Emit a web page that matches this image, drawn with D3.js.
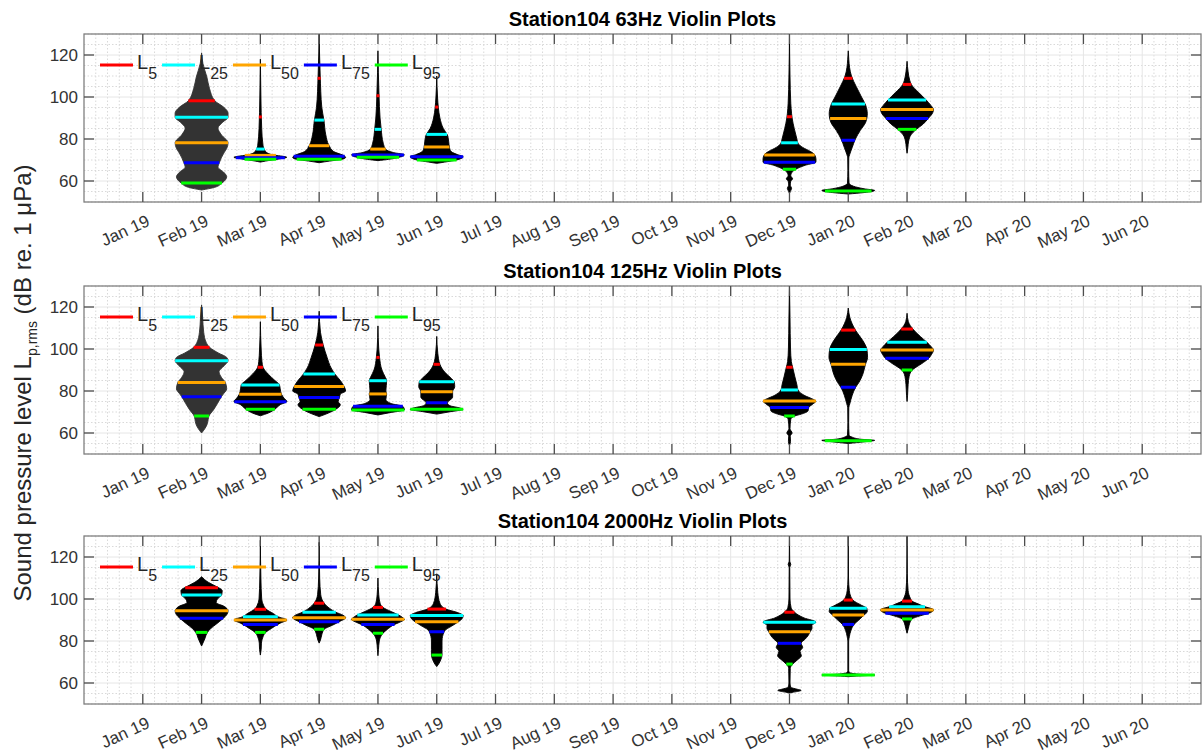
<!DOCTYPE html>
<html>
<head>
<meta charset="utf-8">
<style>
  body { margin: 0; background: #fff; font-family: Arial, "Liberation Sans", sans-serif; }
  .title { font-size: 20px; font-weight: bold; text-anchor: middle; fill: #000; }
  .ticklab { font-size: 17px; fill: #333; }
  .ylab { font-size: 24px; fill: #262626; }
  .leg { font-size: 20px; fill: #262626; }
  .gridmaj { stroke: #e6e6e6; stroke-width: 1; }
  .gridmin { stroke: #d9d9d9; stroke-width: 1; stroke-dasharray: 1.5, 2; }
  .box { fill: none; stroke: #808080; stroke-width: 1.3; }
  .tick { stroke: #4d4d4d; stroke-width: 1.3; }
</style>
</head>
<body>
<div class="chart"></div>
<script src="https://cdn.jsdelivr.net/npm/d3@7/dist/d3.min.js"></script>
<script>
// month ticks along the x axis
const months = ["Jan 19", "Feb 19", "Mar 19", "Apr 19", "May 19", "Jun 19", "Jul 19", "Aug 19", "Sep 19",
  "Oct 19", "Nov 19", "Dec 19", "Jan 20", "Feb 20", "Mar 20", "Apr 20", "May 20", "Jun 20"];
const violinMonths = ["Feb 19", "Mar 19", "Apr 19", "May 19", "Jun 19", "Dec 19", "Jan 20", "Feb 20"];
const titles = ["Station104 63Hz Violin Plots", "Station104 125Hz Violin Plots", "Station104 2000Hz Violin Plots"];
const levelNames = ["5", "25", "50", "75", "95"];
const yTicks = [60, 80, 100, 120];

// exceedance levels L5, L25, L50, L75, L95 (dB) per violin month
const levels63 = [
  [98.2, 90.4, 78.2, 68.7, 59.0],
  [90.5, 75.2, 72.2, 71.1, 70.3],
  [108.9, 89.0, 76.8, 71.8, 70.3],
  [100.6, 84.6, 75.2, 72.4, 71.3],
  [95.2, 82.2, 76.2, 71.6, 70.0],
  [90.6, 78.2, 72.4, 68.9, 65.6],
  [108.9, 96.7, 89.8, 79.4, 55.2],
  [106.0, 98.6, 94.1, 89.8, 84.6]
];
const levels125 = [
  [100.8, 94.4, 84.0, 77.3, 68.1],
  [91.3, 82.9, 78.4, 74.9, 71.3],
  [101.9, 88.1, 82.1, 76.9, 71.3],
  [96.0, 84.9, 78.6, 72.7, 71.0],
  [92.7, 84.4, 79.7, 74.4, 71.3],
  [91.3, 80.5, 75.2, 72.2, 68.1],
  [109.0, 99.8, 92.7, 81.8, 56.3],
  [109.5, 103.2, 99.5, 95.6, 90.0]
];
const levels2000 = [
  [105.4, 101.9, 94.4, 90.8, 84.1],
  [95.1, 91.6, 90.0, 87.9, 84.1],
  [98.0, 93.7, 91.1, 89.2, 85.6],
  [96.0, 92.4, 90.3, 87.9, 83.7],
  [95.2, 92.1, 89.2, 84.4, 73.3],
  [93.7, 88.9, 84.4, 78.9, 69.0],
  [99.5, 95.6, 92.4, 87.9, 63.8],
  [99.0, 96.3, 94.8, 93.2, 90.5]
];

// violin outlines: [dB, relative half-width]
const shape63 = [
  [[121, 0], [116, 0.05], [109.5, 0.2], [104, 0.3], [98.2, 0.5], [95, 0.85], [92.4, 1.0], [90.4, 1.0], [88, 0.8], [85.2, 0.62], [82, 0.75], [78.2, 1.0], [75.5, 0.95], [73.3, 0.84], [68.7, 0.67], [66.7, 0.62], [64, 0.85], [62, 0.95], [59, 0.77], [57, 0.5], [55.7, 0]],
  [[118, 0], [100, 0.02], [85, 0.05], [77, 0.1], [74, 0.2], [72.5, 0.45], [71.3, 1.0], [70.5, 0.7], [69.5, 0.2], [69, 0]],
  [[130, 0], [110, 0.04], [95, 0.1], [89, 0.18], [82, 0.25], [77, 0.37], [74, 0.55], [72, 0.95], [71.2, 1.0], [70.3, 0.85], [69.5, 0.4], [68.7, 0]],
  [[122, 0], [101, 0.04], [90, 0.08], [85, 0.12], [78, 0.2], [75, 0.3], [73.5, 0.6], [72.5, 1.0], [71.3, 0.8], [70.3, 0.4], [69.7, 0]],
  [[110, 0], [100, 0.03], [95, 0.06], [90, 0.12], [85, 0.25], [82, 0.4], [79, 0.45], [76, 0.48], [74, 0.55], [72.5, 0.8], [71.6, 1.0], [70, 0.75], [69, 0.3], [68.4, 0]],
  [[130, 0], [110, 0.02], [97, 0.05], [92, 0.08], [90, 0.1], [85, 0.18], [80, 0.28], [78, 0.32], [76, 0.5], [74, 0.8], [72.5, 0.95], [70.5, 1.0], [69, 1.0], [67.5, 0.6], [66, 0.3], [64.5, 0.12], [62.5, 0.05], [61, 0.12], [60, 0.05], [58, 0.03], [56.5, 0.08], [55, 0.03], [54, 0]],
  [[122, 0], [118, 0.02], [114, 0.05], [110, 0.12], [105, 0.3], [100, 0.5], [96, 0.66], [92, 0.72], [88, 0.66], [84, 0.45], [80, 0.27], [76, 0.15], [72.5, 0.05], [71, 0.02], [65, 0.015], [59, 0.03], [57.5, 0.2], [56.3, 0.6], [55.5, 1.0], [54.5, 0.6], [53.8, 0]],
  [[117, 0], [112, 0.04], [108, 0.1], [106, 0.16], [102, 0.45], [98.6, 0.72], [96, 0.9], [94, 1.0], [92, 0.95], [89.8, 0.8], [87, 0.6], [84.6, 0.35], [82, 0.15], [79, 0.06], [76, 0.03], [73.2, 0]]
];
const shape125 = [
  [[121, 0], [115, 0.04], [108, 0.08], [103, 0.18], [100.8, 0.3], [98, 0.65], [96, 0.95], [94.4, 1.0], [92, 0.85], [89.2, 0.66], [86.5, 0.75], [84, 0.9], [81, 0.95], [79, 0.85], [77.3, 0.75], [74, 0.6], [71, 0.45], [68.1, 0.28], [66.5, 0.25], [64.5, 0.22], [62, 0.12], [60, 0]],
  [[113, 0], [100, 0.03], [94, 0.06], [91.3, 0.1], [88, 0.3], [85, 0.55], [83, 0.72], [81, 0.75], [78.4, 0.8], [76.5, 0.9], [75, 1.0], [73.5, 0.75], [71.3, 0.55], [69.5, 0.3], [68.2, 0]],
  [[118, 0], [108, 0.05], [102, 0.15], [96, 0.3], [91, 0.45], [88, 0.6], [85, 0.8], [82, 0.95], [80, 1.0], [78.5, 0.8], [77, 0.77], [75, 0.72], [73.5, 0.8], [71.3, 0.63], [69.5, 0.35], [67.8, 0]],
  [[111, 0], [100, 0.03], [96, 0.06], [90, 0.15], [86.5, 0.28], [85, 0.33], [80, 0.3], [78.6, 0.33], [76, 0.3], [74, 0.5], [72.7, 0.94], [71, 1.0], [69.8, 0.5], [68.6, 0]],
  [[106, 0], [98, 0.04], [92.7, 0.12], [89, 0.3], [86, 0.55], [84.4, 0.66], [82, 0.68], [79.7, 0.6], [77, 0.6], [74.4, 0.4], [73, 0.5], [72, 0.85], [71.3, 1.0], [70, 0.45], [69, 0]],
  [[130, 0], [115, 0.02], [100, 0.04], [94, 0.07], [91.3, 0.12], [87, 0.2], [83, 0.28], [80.5, 0.32], [78, 0.55], [76, 0.9], [75.2, 1.0], [73.5, 0.85], [72.2, 0.73], [70.5, 0.7], [69, 0.45], [68.1, 0.2], [66.5, 0.05], [62, 0.02], [60, 0.1], [58.5, 0.03], [56, 0.04], [54, 0]],
  [[119.5, 0], [115, 0.06], [109, 0.27], [104, 0.55], [100, 0.7], [96, 0.73], [92.7, 0.65], [88, 0.55], [84, 0.4], [81.8, 0.28], [78, 0.15], [74, 0.06], [72, 0.02], [65, 0.015], [59, 0.03], [58, 0.15], [57, 0.5], [56.5, 1.0], [55.8, 0.6], [55, 0]],
  [[117, 0], [113, 0.05], [109.5, 0.22], [106, 0.5], [103.2, 0.75], [101, 0.92], [99.5, 1.0], [97.5, 0.93], [95.6, 0.82], [93, 0.55], [91, 0.3], [90, 0.2], [87, 0.08], [83, 0.04], [78, 0.02], [75, 0]]
];
const shape2000 = [
  [[110.6, 0], [108, 0.25], [106, 0.55], [104, 0.78], [102, 0.76], [100, 0.6], [98.3, 0.55], [96.5, 0.85], [94.4, 1.0], [92.5, 0.95], [90.8, 0.82], [88, 0.55], [86, 0.35], [84.1, 0.22], [81, 0.12], [77.6, 0]],
  [[128, 0], [110, 0.02], [100, 0.05], [97, 0.12], [95.1, 0.22], [93, 0.5], [91.6, 0.66], [90, 1.0], [88.5, 0.75], [87.9, 0.66], [86, 0.42], [84.1, 0.2], [82, 0.1], [79, 0.04], [76, 0.03], [73.3, 0]],
  [[127, 0], [110, 0.02], [102, 0.06], [98, 0.19], [95.5, 0.4], [93.7, 0.63], [92.3, 0.9], [91.1, 1.0], [89.2, 0.76], [87.5, 0.5], [85.6, 0.19], [83, 0.1], [80.5, 0.05], [79, 0]],
  [[110, 0], [102, 0.03], [98, 0.08], [96, 0.19], [94, 0.5], [92.4, 0.78], [91, 0.95], [90.3, 1.0], [88.8, 0.8], [87.9, 0.63], [85.5, 0.35], [83.7, 0.19], [80, 0.05], [76, 0.02], [73, 0]],
  [[112, 0], [103, 0.04], [98, 0.12], [95.2, 0.35], [93.5, 0.8], [92.1, 1.0], [90.5, 0.95], [89.2, 0.82], [87, 0.55], [85.5, 0.35], [84.4, 0.28], [80, 0.2], [76, 0.2], [73.3, 0.2], [71, 0.15], [69, 0.07], [67.8, 0]],
  [[130, 0], [118, 0.01], [116.5, 0.05], [115, 0.01], [100, 0.02], [96, 0.06], [93.7, 0.19], [91, 0.55], [89, 1.0], [87.5, 0.85], [86, 0.85], [84.4, 0.78], [82.5, 0.7], [81, 0.6], [78.9, 0.44], [77, 0.5], [75, 0.4], [73, 0.45], [71, 0.3], [69, 0.12], [67, 0.03], [60, 0.02], [58, 0.05], [57, 0.3], [56.5, 0.44], [55.5, 0.1], [55.2, 0]],
  [[130, 0], [110, 0.01], [104, 0.04], [101, 0.1], [99.5, 0.17], [97, 0.5], [95.6, 0.7], [94, 0.72], [92.4, 0.6], [90, 0.4], [87.9, 0.22], [85, 0.1], [82, 0.04], [80, 0.015], [66, 0.015], [65, 0.05], [64.2, 0.4], [63.8, 1.0], [63.3, 0.3], [63, 0]],
  [[130, 0], [112, 0.01], [104, 0.04], [100.5, 0.12], [99, 0.19], [97.5, 0.45], [96.3, 0.68], [95.3, 0.95], [94.8, 1.0], [93.2, 0.82], [92, 0.5], [90.5, 0.19], [88.5, 0.1], [86, 0.05], [83.7, 0]]
];

const panelLevels = [levels63, levels125, levels2000];
const panelShapes = [shape63, shape125, shape2000];

// styling
const levelColors = ["#ff0000", "#00ffff", "#ffa500", "#0000ff", "#00ff00"];
const greyViolin = { "0:Feb 19": true, "1:Feb 19": true };

// layout
const width = 1203, height = 756;
const left = 84, right = 1201;
const panelTops = [34, 286, 536], panelH = 168;
const halfW = 0.45;

const svg = d3.select(".chart").append("svg")
  .attr("width", width)
  .attr("height", height);

const x = d3.scaleLinear().domain([-1, 18]).range([left, right]);

drawPanels();

function drawPanels() {
  panelTops.forEach(function (top, p) {
    let bottom = top + panelH;
    let y = d3.scaleLinear().domain([50, 130]).range([bottom, top]);
    let g = svg.append("g");

    // grid: major solid, minor dotted
    let minorX = d3.range(-5, 91).map(k => k / 5).filter(v => v % 1 !== 0);
    let minorY = d3.range(50, 131, 5).filter(v => yTicks.indexOf(v) < 0);
    g.selectAll(".gvx").data(minorX).enter().append("line")
      .attr("class", "gridmin")
      .attr("x1", d => x(d)).attr("x2", d => x(d))
      .attr("y1", top).attr("y2", bottom);
    g.selectAll(".gvy").data(minorY).enter().append("line")
      .attr("class", "gridmin")
      .attr("x1", left).attr("x2", right)
      .attr("y1", d => y(d)).attr("y2", d => y(d));
    g.selectAll(".gmx").data(months).enter().append("line")
      .attr("class", "gridmaj")
      .attr("x1", (d, i) => x(i)).attr("x2", (d, i) => x(i))
      .attr("y1", top).attr("y2", bottom);
    g.selectAll(".gmy").data(yTicks).enter().append("line")
      .attr("class", "gridmaj")
      .attr("x1", left).attr("x2", right)
      .attr("y1", d => y(d)).attr("y2", d => y(d));

    // clip to the axes box
    let clipId = "clip" + p;
    svg.append("clipPath").attr("id", clipId)
      .append("rect").attr("x", left).attr("y", top)
      .attr("width", right - left).attr("height", panelH);
    let plot = g.append("g").attr("clip-path", "url(#" + clipId + ")");

    violinMonths.forEach(function (m, k) {
      let mi = months.indexOf(m);
      let profile = panelShapes[p][k];
      let lv = panelLevels[p][k];
      let fill = greyViolin[p + ":" + m] ? "#333333" : "#000000";

      let area = d3.area()
        .curve(d3.curveMonotoneY)
        .y(d => y(d[0]))
        .x0(d => x(mi - halfW * d[1]))
        .x1(d => x(mi + halfW * d[1]));
      plot.append("path")
        .datum(profile)
        .attr("d", area)
        .attr("fill", fill)
        .attr("stroke", fill)
        .attr("stroke-width", 0.9)
        .attr("stroke-linejoin", "round");

      // width of the violin at each level line
      let wAt = d3.scaleLinear()
        .domain(profile.map(d => d[0]))
        .range(profile.map(d => d[1]))
        .clamp(true);
      lv.forEach(function (v, j) {
        let hw = Math.max(x(mi + halfW * wAt(v)) - x(mi), 1.5);
        plot.append("line")
          .attr("x1", x(mi) - hw).attr("x2", x(mi) + hw)
          .attr("y1", y(v)).attr("y2", y(v))
          .attr("stroke", levelColors[j])
          .attr("stroke-width", 3);
      });
    });

    // legend
    let lx = left + 16, ly = top + 31;
    levelNames.forEach(function (n, j) {
      g.append("line")
        .attr("x1", lx).attr("x2", lx + 33)
        .attr("y1", ly).attr("y2", ly)
        .attr("stroke", levelColors[j]).attr("stroke-width", 3);
      let t = g.append("text").attr("class", "leg")
        .attr("x", lx + 37).attr("y", top + 35);
      t.append("tspan").text("L");
      t.append("tspan").attr("dy", 10).style("font-size", "16px").text(n);
      let w = t.node().getComputedTextLength();
      lx = lx + 37 + w + 5;
    });

    // box and ticks
    g.append("rect").attr("class", "box")
      .attr("x", left).attr("y", top)
      .attr("width", right - left).attr("height", panelH);
    months.forEach(function (m, i) {
      g.append("line").attr("class", "tick")
        .attr("x1", x(i)).attr("x2", x(i)).attr("y1", bottom).attr("y2", bottom - 10);
      g.append("line").attr("class", "tick")
        .attr("x1", x(i)).attr("x2", x(i)).attr("y1", top).attr("y2", top + 10);
      g.append("text").attr("class", "ticklab")
        .attr("text-anchor", "end")
        .attr("transform", "translate(" + (x(i) + 8) + "," + (bottom + 23) + ") rotate(-25)")
        .text(m);
    });
    yTicks.forEach(function (v) {
      g.append("line").attr("class", "tick")
        .attr("x1", left).attr("x2", left + 10).attr("y1", y(v)).attr("y2", y(v));
      g.append("line").attr("class", "tick")
        .attr("x1", right).attr("x2", right - 10).attr("y1", y(v)).attr("y2", y(v));
      g.append("text").attr("class", "ticklab")
        .attr("text-anchor", "end")
        .attr("x", left - 6).attr("y", y(v)).attr("dy", "0.36em")
        .text(v);
    });

    g.append("text").attr("class", "title")
      .attr("x", (left + right) / 2).attr("y", top - 8)
      .text(titles[p]);
  });

  // shared y axis label
  let yl = svg.append("text").attr("class", "ylab")
    .attr("text-anchor", "middle")
    .attr("transform", "translate(31,383) rotate(-90)");
  yl.append("tspan").text("Sound pressure level L");
  yl.append("tspan").attr("dy", 6).style("font-size", "14px").text("p,rms");
  yl.append("tspan").attr("dy", -6).text(" (dB re. 1 \u03bcPa)");
}
</script>
</body>
</html>
